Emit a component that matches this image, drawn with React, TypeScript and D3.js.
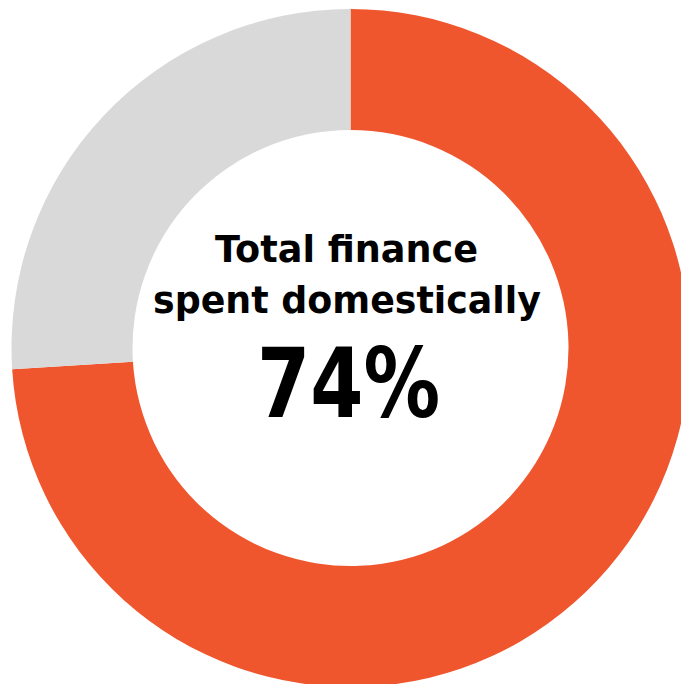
import React from "react";
import * as d3 from "d3";

const categories = ["Domestic", "Other"];
const values = [74, 26];
const colors = ["#F0562D", "#D9D9D9"];
const titleLines = ["Total finance", "spent domestically"];
const centerValue = "74%";

export default function App() {
  const width = 681;
  const height = 684;
  const cx = 350.5;
  const cy = 348;
  const outerR = 339;
  const innerR = 218;

  const pie = d3.pie<number>().sort(null).value((d) => d)(values);
  const arc = d3.arc<d3.PieArcDatum<number>>().innerRadius(innerR).outerRadius(outerR);

  return (
    <svg
      width={width}
      height={height}
      style={{ position: "absolute", left: 0, top: 0, background: "#fff" }}
    >
      <g transform={`translate(${cx},${cy})`}>
        {pie.map((p, i) => (
          <path key={categories[i]} d={arc(p) || ""} fill={colors[i]} />
        ))}
      </g>
      <g fontFamily="'DejaVu Sans', sans-serif" fontWeight="bold" fill="#000" textAnchor="middle">
        <text x={346.5} y={262} fontSize={38} textLength={263} lengthAdjust="spacingAndGlyphs">
          {titleLines[0]}
        </text>
        <text x={347} y={313} fontSize={38} textLength={388} lengthAdjust="spacingAndGlyphs">
          {titleLines[1]}
        </text>
        <text x={348.5} y={417} fontSize={96} textLength={183} lengthAdjust="spacingAndGlyphs">
          {centerValue}
        </text>
      </g>
    </svg>
  );
}
